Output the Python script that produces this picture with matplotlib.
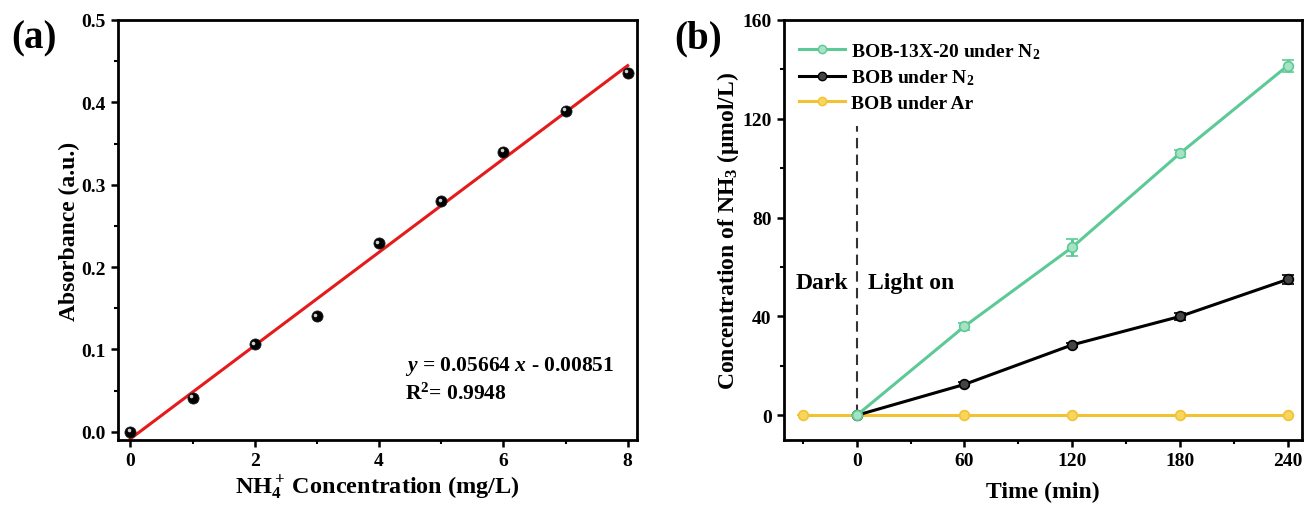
import matplotlib
matplotlib.use("Agg")
import matplotlib.pyplot as plt
import numpy as np
from matplotlib.ticker import MultipleLocator, FormatStrFormatter
from matplotlib.lines import Line2D
from matplotlib.transforms import ScaledTranslation

plt.rcParams['font.family'] = ['Liberation Serif', 'DejaVu Serif']
plt.rcParams['font.weight'] = 'bold'
plt.rcParams['mathtext.fontset'] = 'custom'
plt.rcParams['mathtext.rm'] = 'Liberation Serif:bold'
plt.rcParams['mathtext.it'] = 'Liberation Serif:italic:bold'
plt.rcParams['mathtext.bf'] = 'Liberation Serif:bold'

# ---- Panel (a) data ----
conc = [0, 1, 2, 3, 4, 5, 6, 7, 8]
absorb = [0.0, 0.041, 0.106, 0.140, 0.229, 0.280, 0.340, 0.390, 0.436]
slope = 0.05664
intercept = -0.00851
fit_x = [0, 8]

# ---- Panel (b) data ----
time = [0, 60, 120, 180, 240]
bob13x = [0, 36, 68, 106, 141.5]
bob13x_err = [0, 1.5, 3.5, 1.5, 2.4]
bob_n2 = [0, 12.5, 28.5, 40, 55]
bob_n2_err = [0, 0.8, 0.8, 1.6, 1.8]
time_ar = [-30, 0, 60, 120, 180, 240]
bob_ar = [0, 0, 0, 0, 0, 0]
bob_ar_err = [0, 0, 0, 0, 0, 0]
labels_b = [r'BOB-13X-20 under N$_2$', r'BOB under N$_2$', 'BOB under Ar']

green = '#5DC996'
yellow = '#F2C232'
red = '#E51B1B'

fig = plt.figure(figsize=(13.07, 5.06), dpi=100)
W, H = 1307, 506
ax1 = fig.add_axes([118 / W, 1 - 441 / H, (637 - 118) / W, (441 - 21) / H])
ax2 = fig.add_axes([784 / W, 1 - 441 / H, (1302 - 784) / W, (441 - 21) / H])

for ax in (ax1, ax2):
    for s in ax.spines.values():
        s.set_linewidth(2.0)
    ax.tick_params(which='major', direction='out', length=5, width=1.8, labelsize=14, pad=4)
    ax.tick_params(which='minor', direction='out', length=3, width=1.5)

# Panel (a)
ax1.set_xlim(-0.2, 8.15)
ax1.set_ylim(-0.01, 0.5)
fx = np.array(fit_x, dtype=float)
ax1.plot(fx, slope * fx + intercept, color=red, lw=2.2, zorder=2)
ax1.plot(conc, absorb, 'o', ms=8, mfc='black', mec='#222222', mew=0.6, zorder=3)
hl = ax1.transData + ScaledTranslation(-1.6 / 100, 1.6 / 100, fig.dpi_scale_trans)
ax1.plot(conc, absorb, 'o', ms=2.6, mfc='#d0d0d0', mec='none', zorder=4, transform=hl)
ax1.xaxis.set_major_locator(MultipleLocator(2))
ax1.xaxis.set_minor_locator(MultipleLocator(1))
ax1.yaxis.set_major_locator(MultipleLocator(0.1))
ax1.yaxis.set_minor_locator(MultipleLocator(0.05))
ax1.yaxis.set_major_formatter(FormatStrFormatter('%.1f'))
ax1.set_xlabel('NH$_4^+$\u2009Concentration (mg/L)', fontsize=17.5, fontweight='bold', labelpad=2)
ax1.set_ylabel('Absorbance (a.u.)', fontsize=17, fontweight='bold', labelpad=1)
ax1.text(0.553, 0.166, r'$y$ = 0.05664 $x$ - 0.00851', transform=ax1.transAxes, fontsize=15.5, fontweight='bold')
ax1.text(0.553, 0.098, r'R$^2$= 0.9948', transform=ax1.transAxes, fontsize=15.5, fontweight='bold')
fig.text(11 / W, 1 - 48 / H, '(a)', fontsize=28, fontweight='bold')

# Panel (b)
ax2.set_xlim(-40.5, 248)
ax2.set_ylim(-10, 160)
ax2.axvline(0, ymin=(0 + 10) / 170, ymax=(117 + 10) / 170, color='#333333', lw=1.5, ls=(0, (5, 3)), zorder=1)
ax2.errorbar(time_ar, bob_ar, yerr=bob_ar_err, color=yellow, lw=2.2, marker='o', ms=7,
             mfc='#F7D65E', mec=yellow, mew=1.2, capsize=4, zorder=2)
ax2.errorbar(time, bob_n2, yerr=bob_n2_err, color='black', lw=2.2, marker='o', ms=7,
             mfc='#444444', mec='black', mew=1.2, capsize=4, capthick=1.5, zorder=3)
ax2.errorbar(time, bob13x, yerr=bob13x_err, color=green, lw=2.2, marker='o', ms=7,
             mfc='#A6E2C4', mec=green, mew=1.2, capsize=4, capthick=1.5, zorder=4)
ax2.xaxis.set_major_locator(MultipleLocator(60))
ax2.xaxis.set_minor_locator(MultipleLocator(30))
ax2.yaxis.set_major_locator(MultipleLocator(40))
ax2.yaxis.set_minor_locator(MultipleLocator(20))
ax2.set_xlabel('Time (min)', fontsize=17, fontweight='bold', labelpad=8)
ax2.set_ylabel(r'Concentration of NH$_3$ (μmol/L)', fontsize=17, fontweight='bold', labelpad=1)
ax2.text(-34, 51.5, 'Dark', fontsize=17, fontweight='bold', va='baseline')
ax2.text(6.5, 51.5, 'Light on', fontsize=17, fontweight='bold', va='baseline')
handles = [
    Line2D([], [], color=green, lw=2.2, marker='o', ms=6, mfc='#A6E2C4', mec=green),
    Line2D([], [], color='black', lw=2.2, marker='o', ms=6, mfc='#444444', mec='black'),
    Line2D([], [], color=yellow, lw=2.2, marker='o', ms=6, mfc='#F7D65E', mec=yellow),
]
ax2.legend(handles, labels_b, loc='upper left', frameon=False, fontsize=14, handlelength=2.4,
           handletextpad=0.3, labelspacing=0.37, borderaxespad=0.35, bbox_to_anchor=(0.0, 0.985))
fig.text(674 / W, 1 - 48 / H, '(b)', fontsize=28, fontweight='bold')

fig.savefig('out.png', dpi=100, facecolor='white')
